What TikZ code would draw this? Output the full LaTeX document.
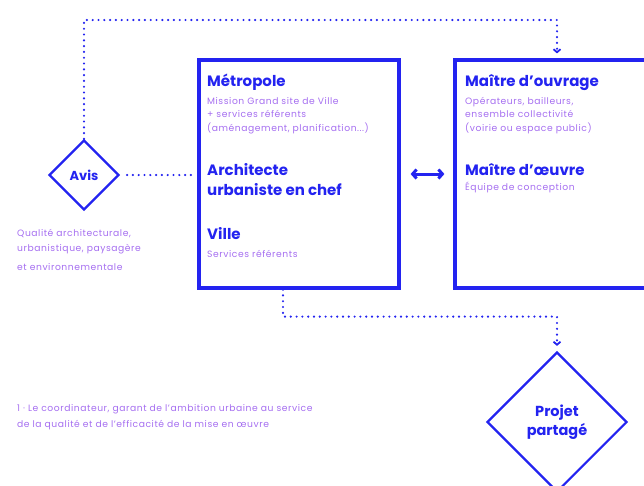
\documentclass[tikz,border=0pt]{standalone}
\usepackage{fontspec}
\setmainfont{Poppins}
\usetikzlibrary{shapes.geometric,arrows.meta}

\definecolor{bleu}{RGB}{35,35,240}
\definecolor{mauve}{RGB}{165,110,240}

\begin{document}
\begin{tikzpicture}[x=1pt, y=-1pt,
    cadre/.style={draw=bleu, line width=3.2pt, minimum width=204pt, minimum height=228pt, inner sep=0pt},
    losange/.style={diamond, draw=bleu, line width=2.2pt, inner sep=0pt, align=center, text=bleu},
    pointille/.style={bleu, line width=2.4pt, dash pattern=on 0pt off 5.8pt, line cap=round},
    fleche/.style={-{Straight Barb[length=3pt, width=7pt, line width=1.8pt]}},
    titre/.style={anchor=base west, inner sep=0pt, font=\fontsize{15}{17}\selectfont\bfseries, text=bleu},
    petit/.style={anchor=base west, inner sep=0pt, font=\fontsize{9.2}{11}\selectfont\addfontfeature{LetterSpace=6}, text=mauve}
  ]
    \useasboundingbox (0,0) rectangle (644,485);

    % Boxes
    \node[cadre, minimum width=200pt] (metro) at (299,174) {};
    \node[cadre] (moa) at (557,174) {};

    % Diamonds
    \node[losange, minimum width=70pt, minimum height=70pt, font=\fontsize{13}{15}\selectfont\bfseries] (avis) at (84,175) {Avis};
    \node[losange, minimum width=140pt, minimum height=140pt, font=\fontsize{14.5}{19}\selectfont\bfseries] (projet) at (557,422) {Projet\\partagé};

    % Metropole box
    \node[titre] (metroT) at (207,86) {Métropole};
    \node[petit] (metro1) at (207,104) {Mission Grand site de Ville};
    \node[petit] (metro2) at (207,117) {+ services référents};
    \node[petit] (metro3) at (207,131) {(aménagement, planification...)};
    \node[titre] (archi1) at (207,175) {Architecte};
    \node[titre] (archi2) at (207,195) {urbaniste en chef};
    \node[titre] (villeT) at (207,239) {Ville};
    \node[petit] (ville1) at (207,257) {Services référents};

    % Maitre d'ouvrage box
    \node[titre] (moaT) at (465,86) {Maître d'ouvrage};
    \node[petit] (moa1) at (465,104) {Opérateurs, bailleurs,};
    \node[petit] (moa2) at (465,117) {ensemble collectivité};
    \node[petit] (moa3) at (465,131) {(voirie ou espace public)};
    \node[titre] (moeT) at (465,175) {Maître d'œuvre};
    \node[petit] (moe1) at (465,190) {Équipe de conception};

    % Notes
    \node[petit] (qual1) at (17,236) {Qualité architecturale,};
    \node[petit] (qual2) at (17,251) {urbanistique, paysagère};
    \node[petit] (qual3) at (17,270) {et environnementale};
    \node[petit] (note1) at (17,411) {1 · Le coordinateur, garant de l'ambition urbaine au service};
    \node[petit] (note2) at (17,427) {de la qualité et de l'efficacité de la mise en œuvre};

    % Connectors
    \draw[pointille, fleche, shorten >=5pt] (avis.north) |- (84,20) -| (moa.north);
    \draw[pointille, shorten <=7pt, shorten >=6pt] (avis.east) -- (avis.east -| metro.west);
    \draw[pointille, fleche, shorten >=5pt] ([xshift=-16pt]metro.south) -- ++(0,27) -| (projet.north);
    \draw[bleu, line width=3pt, {Straight Barb[length=4pt, width=9pt]}-{Straight Barb[length=4pt, width=9pt]}, shorten <=10pt, shorten >=9pt] (metro.east) -- (moa.west);
\end{tikzpicture}
\end{document}
